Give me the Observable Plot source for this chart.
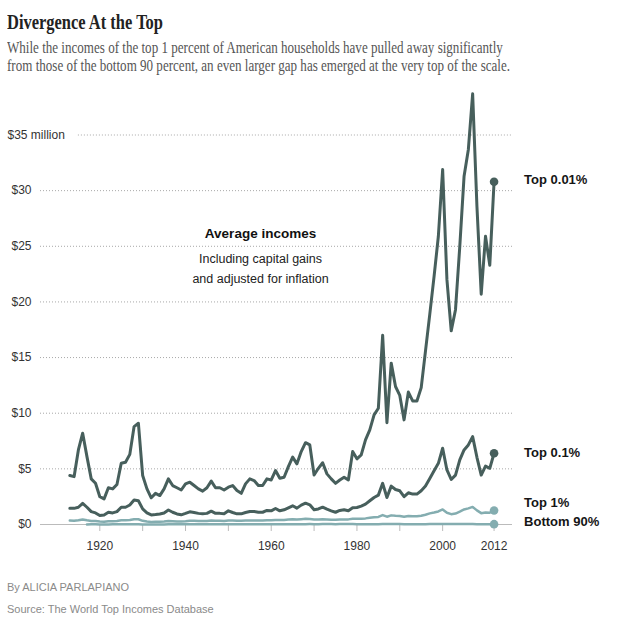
<!DOCTYPE html>
<html><head><meta charset="utf-8">
<script src="https://cdn.jsdelivr.net/npm/d3@7"></script>
<script src="https://cdn.jsdelivr.net/npm/@observablehq/plot@0.6"></script>
<style>
body{margin:0;background:#fff;width:617px;height:621px;position:relative;overflow:hidden}
.t{position:absolute;left:7px;white-space:nowrap;transform-origin:0 0}
#title{top:12px;font-family:"Liberation Serif",serif;font-weight:bold;font-size:21px;line-height:21px;color:#222}
#sub{top:39px;font-family:"Liberation Serif",serif;font-size:16px;line-height:18.4px;color:#555}
#chart{position:absolute;left:0;top:80px}
.foot{font-family:"Liberation Sans",Arial,sans-serif;font-size:11px;line-height:12.3px;color:#8a8a8a}
#by{top:581px}
#src{top:603px}
</style></head>
<body>
<div id="title" class="t">Divergence At the Top</div>
<div id="sub" class="t">While the incomes of the top 1 percent of American households have pulled away significantly<br>from those of the bottom 90 percent, an even larger gap has emerged at the very top of the scale.</div>
<div id="chart"></div>
<div id="by" class="t foot">By ALICIA PARLAPIANO</div>
<div id="src" class="t foot">Source: The World Top Incomes Database</div>
<script>
// ---- data (average incomes, millions of 2012 dollars) ----
const startYear = 1913;
const bottom90Start = 1917;
const top001 = [
  4.4, 4.3, 6.7, 8.2, 6.1, 4.1, 3.7,
  2.5, 2.3, 3.3, 3.2, 3.6, 5.5, 5.6, 6.3, 8.8, 9.1,
  4.4, 3.2, 2.4, 2.8, 2.6, 3.2, 4.1, 3.5, 3.3, 3.1,
  3.65, 3.8, 3.5, 3.2, 3.0, 3.3, 3.9, 3.3, 3.3, 3.1,
  3.35, 3.5, 3.05, 2.8, 3.65, 4.1, 3.95, 3.5, 3.5, 4.1,
  4.0, 4.85, 4.15, 4.25, 5.2, 6.05, 5.45, 6.55, 7.35, 7.15,
  4.45, 5.05, 5.55, 4.55, 4.1, 3.7, 4.0, 4.25, 4.0, 6.55,
  5.9, 6.25, 7.6, 8.5, 9.85, 10.45, 17.0, 9.15, 14.5, 12.4,
  11.6, 9.4, 11.9, 11.1, 11.1, 12.3, 15.6, 18.9, 22.3, 25.9,
  31.9, 22.0, 17.4, 19.3, 25.0, 31.3, 33.7, 38.7, 28.6, 20.7,
  25.9, 23.3, 30.8
];
const top01 = [
  1.45, 1.45, 1.55, 1.9, 1.55, 1.16, 1.04,
  0.8, 0.86, 1.1, 1.04, 1.16, 1.55, 1.55, 1.75, 2.2, 2.14,
  1.4, 1.04, 0.86, 0.89, 0.95, 1.04, 1.3, 1.1, 0.95, 0.87,
  1.0, 1.14, 1.08, 1.0, 0.96, 1.0, 1.2, 1.0, 1.0, 0.96,
  1.23, 1.08, 0.96, 0.96, 1.08, 1.17, 1.17, 1.1, 1.1, 1.26,
  1.23, 1.44, 1.23, 1.32, 1.5, 1.68, 1.47, 1.74, 1.92, 1.77,
  1.32, 1.4, 1.56, 1.38, 1.23, 1.1, 1.26, 1.32, 1.23, 1.5,
  1.53, 1.65, 1.83, 2.13, 2.43, 2.64, 3.7, 2.43, 3.45, 3.15,
  3.03, 2.5, 2.85, 2.73, 2.73, 3.03, 3.45, 4.14, 4.83, 5.5,
  6.85, 4.9, 4.05, 4.44, 5.8, 6.7, 7.15, 7.9, 6.04, 4.44,
  5.25, 5.05, 6.4
];
const top1 = [
  0.35, 0.33, 0.38, 0.45, 0.38, 0.32, 0.31,
  0.26, 0.25, 0.30, 0.30, 0.32, 0.38, 0.38, 0.40, 0.48, 0.47,
  0.33, 0.27, 0.23, 0.24, 0.25, 0.27, 0.32, 0.30, 0.27, 0.28,
  0.30, 0.33, 0.33, 0.32, 0.31, 0.32, 0.36, 0.33, 0.34, 0.32,
  0.36, 0.35, 0.33, 0.33, 0.35, 0.37, 0.37, 0.36, 0.36, 0.39,
  0.38, 0.41, 0.40, 0.41, 0.44, 0.47, 0.45, 0.48, 0.51, 0.49,
  0.44, 0.45, 0.48, 0.46, 0.43, 0.42, 0.44, 0.45, 0.46, 0.52,
  0.52, 0.52, 0.55, 0.60, 0.65, 0.68, 0.85, 0.70, 0.82, 0.79,
  0.77, 0.70, 0.77, 0.74, 0.74, 0.79, 0.88, 1.00, 1.08, 1.17,
  1.35, 1.05, 0.93, 0.98, 1.15, 1.35, 1.45, 1.58, 1.27, 1.02,
  1.08, 1.06, 1.26
];
const bottom90 = [
  0.011, 0.012, 0.012,
  0.011, 0.010, 0.011, 0.012, 0.012, 0.012, 0.012, 0.012, 0.012, 0.012,
  0.011, 0.010, 0.009, 0.009, 0.010, 0.011, 0.012, 0.013, 0.012, 0.013,
  0.014, 0.016, 0.019, 0.021, 0.022, 0.021, 0.021, 0.020, 0.020, 0.020,
  0.021, 0.022, 0.023, 0.024, 0.024, 0.025, 0.026, 0.026, 0.026, 0.027,
  0.027, 0.027, 0.028, 0.029, 0.030, 0.031, 0.032, 0.032, 0.033, 0.034,
  0.033, 0.033, 0.035, 0.035, 0.034, 0.033, 0.034, 0.034, 0.035, 0.035,
  0.033, 0.033, 0.032, 0.032, 0.033, 0.033, 0.034, 0.034, 0.034, 0.034,
  0.034, 0.033, 0.033, 0.032, 0.033, 0.033, 0.033, 0.034, 0.036, 0.037,
  0.037, 0.036, 0.035, 0.035, 0.035, 0.035, 0.035, 0.035, 0.033, 0.031,
  0.030, 0.030, 0.030
];
const seriesNames = ["Top 0.01%", "Top 0.1%", "Top 1%", "Bottom 90%"];
const gridTicks = [5, 10, 15, 20, 25, 30];
const yTicks = [0, 5, 10, 15, 20, 25, 30];
const topTick = 35;
const topTickLabel = "$35 million";
const xTicks = [1920, 1930, 1940, 1950, 1960, 1970, 1980, 1990, 2000, 2012];
const xTickLabels = [1920, 1940, 1960, 1980, 2000, 2012];
const noteTitle = "Average incomes";
const noteLines = ["Including capital gains", "and adjusted for inflation"];

// ---- build table ----
function rows(name, values, start) {
  return values.map((v, i) => ({series: name, year: start + i, value: v}));
}
const data = [
  ...rows("Top 0.01%", top001, startYear),
  ...rows("Top 0.1%", top01, startYear),
  ...rows("Top 1%", top1, startYear),
  ...rows("Bottom 90%", bottom90, bottom90Start)
];
const dark = "#475f5c", light = "#84adb0";
const colorOf = {"Top 0.01%": dark, "Top 0.1%": dark, "Top 1%": light, "Bottom 90%": light};
const widthOf = {"Top 0.01%": 3, "Top 0.1%": 3, "Top 1%": 2.5, "Bottom 90%": 2.5};
const labelDy = {"Top 0.01%": -2, "Top 0.1%": 0, "Top 1%": -8, "Bottom 90%": -2};
const last = seriesNames.map(n => data.filter(d => d.series === n).at(-1));

const xDomain = [1906.16, 2016.3];
const marks = [
  Plot.ruleY(gridTicks, {y: d => d, stroke: "#a8a8a8", strokeDasharray: "1,2"}),
  Plot.ruleY([topTick], {y: d => d, x1: () => 1915, x2: () => xDomain[1], stroke: "#a8a8a8", strokeDasharray: "1,2"}),
  Plot.ruleY([0], {y: d => d, stroke: "#bbb", strokeWidth: 1.2}),
  Plot.axisY(yTicks, {tickSize: 0, tickPadding: 9, tickFormat: d => "$" + d, label: null, fill: "#333", fontSize: 12}),
  Plot.text([topTick], {y: d => d, frameAnchor: "left", dx: -33, textAnchor: "start", text: () => topTickLabel, fill: "#333", fontSize: 12}),
  Plot.axisX(xTicks, {tickSize: 7, tickPadding: 10, stroke: "#bbb", fill: "#333", fontSize: 12, label: null,
    tickFormat: d => xTickLabels.includes(d) ? String(d) : ""})
];
for (const n of ["Bottom 90%", "Top 1%", "Top 0.1%", "Top 0.01%"]) {
  marks.push(Plot.line(data.filter(d => d.series === n), {
    x: "year", y: "value", stroke: colorOf[n], strokeWidth: widthOf[n], strokeLinejoin: "round", strokeLinecap: "round"
  }));
}
for (const d of last) {
  marks.push(Plot.dot([d], {x: "year", y: "value", r: 4.3, fill: colorOf[d.series], stroke: null}));
  marks.push(Plot.text([d], {x: "year", y: "value", text: "series", dx: 30, dy: labelDy[d.series],
    textAnchor: "start", fontWeight: "bold", fontSize: 13, fill: "#151515"}));
}
const noteX = 1957.5;
marks.push(Plot.text([noteTitle], {x: () => noteX, y: () => 26.1, text: d => d, fontWeight: "bold", fontSize: 13.5, fill: "#111"}));
marks.push(Plot.text([noteLines.join("\n")], {x: () => noteX, y: () => 23.2, text: d => d, fontSize: 12.5, lineHeight: 1.6, fill: "#222"}));

const chart = Plot.plot({
  width: 617, height: 490,
  marginLeft: 40, marginRight: 105, marginTop: 54.5, marginBottom: 46,
  x: {domain: xDomain},
  y: {domain: [0, 35]},
  style: {fontFamily: '"Liberation Sans", Arial, sans-serif', fontSize: "12px", background: "white", overflow: "visible"},
  marks
});
document.getElementById("chart").appendChild(chart);

function fit(id, target) {
  const el = document.getElementById(id);
  const w = el.getBoundingClientRect().width;
  el.style.transform = `scaleX(${target / w})`;
}
fit("title", 156);
fit("sub", 503);
</script>
</body></html>
